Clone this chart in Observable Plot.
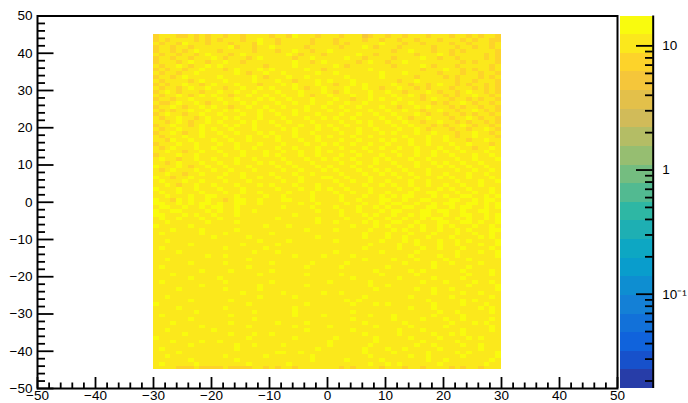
<!DOCTYPE html>
<html><head><meta charset="utf-8">
<script src="https://cdn.jsdelivr.net/npm/d3@7"></script>
<script src="https://cdn.jsdelivr.net/npm/@observablehq/plot@0.6"></script>
<style>
body{margin:0;background:#fff}
#c{position:relative;width:688px;height:403px;overflow:hidden}
#c svg{position:absolute;left:0;top:0}
</style>
</head><body><div id="c"></div>
<script>
// ---- data: 2D histogram, 1x1 bins, x in [-30,30], y in [-45,45]; rows listed from top (y=45) down
// codes = colour band: 'o' dark orange, 'a' orange, '.' main yellow, 'b' bright yellow
const xStart = -30, yTop = 45, nCols = 60;
const codeValue = { o: 5.3, a: 7.5, ".": 10.5, b: 14 };
const rows = [
"a...aa.a.a..a..a....a..ab...a...a...oa..a..a...a...a..a.a..a",
"a.a....a.a.a...a..b..a.....a...a....a..a..a..a...a...a.a..aa",
".a..ab...a...a...ab..a.....a...a.a.....b...a..a....a..a...a.",
"a..a..a......ba..a..b.....a.....a...b.a...a.....a...a..a..a.",
"a..a.a.b...a.....a...a..b..a..b..........a..b...a..a.a.....a",
".a..a..a.b...a.b.......b.a...a.....b..a......a...b.a.....a.a",
"a..a..a...b.a...a.b.....a..b.....b..a....a....b..a..a....a.a",
"a...a.b..a..b..a........b..a.b.....a.b..a..b.........a.a...a",
".a..b.a..b.b.......a....b......b.a.......a....b.a...a.....a.",
"a.a..a..b...a.b...b.b.....b..a.......b........a...b..a.a..a.",
".a..a..b......b.a..b..b.....b..b.......b...b.....a...a..a..a",
"a..a.b.....b.....b.a...b..b......b.....b.....a....a.a...a.a.",
".a....a.b...b....b...b..a...b.b...b.......a..b......a..a...a",
"a.a..b..a.b...b...a...b.b...b..a..b.b....b..a..a.b..a.a..a.a",
".a..a.b..b..a..b..b.b...b.a..b...b..b..a..b..a.a...a...a.a.a",
"a.b.a...a..b..b..b...b...b...b.a.b...b..b..a...b.a..a.b..a.a",
".a..b.a.b.b..a..b..b..b..b.a..b...b..b...b..b.a...a.a..b..a.",
"a..a..b....b..b...b.b..b...b...b..a..b.b..b...a.b..a..a.a..a",
".aa.b..b.a..b..b.b...b..b..b..b..b..b....b..b...a.a..b.a..a.",
"a..b.a..b.b..a..b..b..b...b..b..b..b...b..a..b.b...a.a..a..a",
".a.a..b..b..b.b...b.b...b.b...b..b...b..b..b..a..b..a..b.a.a",
"a.b..a..b..b...b..b..b..b...b...b..b..b..b...b.a..a..a.a..a.",
".a..b..a.b..b.b...b...b...b..b.b..b....b..b.a..b...a..b.a..a",
"..a.b.a..b.b...b.b..b..b...b....b..b.b..b..b..a..b..a.a..a.a",
"a..b..a.b...b.b..b...b...b..b.b..b...b...b..b...a.a..b.a..a.",
".a..b...b.b..b...b....b.b...b..b...b..b...b..b.a...a..a..b.a",
"a..b.a..b..b..b...b.b...b..b....b..b...b.b...b..b...a..b..a.",
".a...b..b...b...b..b.b..b...b.b...b..b.....b...b..b.a..b...a.",
"..ab..b...b..b..b....b...b..b...b..b...b.b..b..b..b...a..b..",
"a...b..b...b..b...b...b...b..b.b..b..b..b...b..b...b..b...a.",
".a.b...b..b...b..b...b..b...b...b...b..b..b..b...b..b..a..b.",
"..b..a..b..b...b...b..b..b..b.b...b..b...b...b..b.b..b...b..",
"a...b..b....b..b...b.b...b..b...b..b...b..b..b..b..b...b..b.",
".b..a..b..b...b..b....b...b..b.b..b...b.b...b..b....b..b...b",
"..a.b...b..b..b...b.b..b...b....b..b..b..b...b..b.b..b..b...",
"b...b.a..b..b...b....b..b...b.b...b..b....b..b...b.b..b..b..",
".a.b...b..b..b...b....b..b...b.b...b..b.b..b...b....b..b..b.",
"..b..a..b...b..b....b...b..b....b...b..b.b..b..b..b...b..b..",
"b..a..b....b...b..b..b...b...bb..b...b....b..b...b.b..b...b.",
".b...b..b...b...b.....b..b.....b..b..b..b...b..b....b...b..b",
"..b.a..b..b...b...b.b...b...b...b...b..b.b..b..b..b..b..b...",
"b...b..b...b...b.....b...b..b.b..b...b....b..b...b.b..b...b.",
".b..b...b...b..b..b....b...b...b..b..b..b...b..bb...b..b..b.",
"..b...b..bb...b....b..b....b....b...b..b.b.bb...b.b..bb..b.b",
"b..ab.b..b..a.bb..b...bb...b....b..b...bb..b..bb...bb..b.bb.",
"bb..b.b.bb.b..bb..b......b..b....b..b..b.bb..b..b.bb..bb.b.b",
".bb..b..b.bb..b.......b....b...b...b..b.b..bb..bb..b.bb..b.b",
"b..bb....b.b..b..b..........b...b..b...b.bb...bb.bb..b..bb..",
"bb...b.b..b...b.........b.......b...b.b..b..b.bb..b..bb..b.b.b",
".b..b...b..b.........b......b....b...b..b..b..b.bb..b.b..b.b",
"..b......b....b.............b..b....b.b..bb..b...bb..bb.b..b",
"b.....b............b...b..........b...b.b...b.b..b.b...b..b.",
"...b....b.....b...........b....b.....b...b.b..b..b..b.b...bb",
".b......b...b.......b...............b...b...b...b...b..b..b..b",
"..........b.....b...........b.......b...b..b...b...b....b.b.",
"..b...............b....b.......b.......b...b.b...b..b.b....b",
"......b........b.....b...............b....b..b...b..b...b..b..",
".b..........b......b................b.....b...b..b...b....b.",
"....b............b...b.........b.......b.....b......b...b..b.",
".........b..b...........b....b....b.........b....b..b......b..",
"..b.............b...................b....b...b....b...b.....b",
"......b.....b.......b......b.....b.........b....b..b....b...",
".b..............b.........b.....b.......b.......b.....b.....b",
"........b....b......b.................b.....b.b......b....b....",
"...b..............b.......b.....b......b.....b........b...b..",
"......b....b......................b.......b.....b....b........",
".b..........b.......b.........b......b........b...b....b..b.",
"........b.........b.......b..........b..b.............b....b.",
"....b.......b.....b...................b......b..b..b.......b.",
"...............b......b......b..b...............b....b..b....",
"..b...............b.....b...........b.......b......b......b...b",
"......b......b...................b.b...........b.....b.b.......",
"b...............b.........b.......b...b.b.......b....b...b..",
"....b.......b...........b...................b...b.......b.b",
".......b.........b......b.........b..............b..b.....b.....",
".b...........b..........b....b.......b...b......b....b......b",
"......b..........b................b......b....b...b..b....b...",
"...b.........b.......b....b.........b......b.......b...b.b....",
"........b.......b.......b.....b.......b.....b.....b.......b.",
"..b.......b...............b.......b.......b...b......b....b.",
".....b.......b...b..b...............b.....b.....b..b.b......b.",
"b...............b.......b......b......b.....b....b....b.b....",
"...b....b..b..................b.......b.......b.....b.......b.",
"......b.......b..b....b.......b......b.......b..b....b..b....b",
".b............b.............b.......b...b..b.....b......b....b..",
"....b................bb..b..........b....b.....b....b.b....b.....",
"..b.........b......b.......b.........b......b..b.....b.....b..b",
"......b.......b............b.....b.....b.......b..b.......b.......",
".b.....b........b......b.............b..b.b......b.......b..b...",
"....aaa.aaaa.aaaa..a.a..a.......a.a....a...a..a....a.a..a...."
];
// colour scale (log z, 20 contour levels, ROOT kBird palette)
const zMax = 17.4, zMin = 0.0174, nLevels = 20;
const birdStops = [0, .125, .25, .375, .5, .625, .75, .875, 1];
const birdR = [0.2082, 0.0592, 0.0780, 0.0232, 0.1802, 0.5301, 0.8186, 0.9956, 0.9764];
const birdG = [0.1664, 0.3599, 0.5041, 0.6419, 0.7178, 0.7492, 0.7328, 0.7862, 0.9832];
const birdB = [0.5293, 0.8684, 0.8385, 0.7914, 0.6425, 0.4662, 0.3499, 0.1968, 0.0539];
// axis ticks
const axisMajor = [-50, -40, -30, -20, -10, 0, 10, 20, 30, 40, 50];
const axisMinor = d3.range(-50, 51, 2).filter(v => v % 10 !== 0);
const zMajor = [0.1, 1, 10];
const zMinor = [2,3,4,5,6,7,8,9].flatMap(m => [0.01*m, 0.1*m, m]).filter(v => v > zMin && v < zMax);

function bird(t) {
  let k = 0; while (k < birdStops.length - 2 && t > birdStops[k+1]) k++;
  const f = (t - birdStops[k]) / (birdStops[k+1] - birdStops[k]);
  const c = a => Math.round(255 * (a[k] + f * (a[k+1] - a[k])));
  return `rgb(${c(birdR)},${c(birdG)},${c(birdB)})`;
}
const levelColors = d3.range(nLevels).map(i => bird(Math.floor((i + 0.99) * 255 / nLevels) / 254));
const lz0 = Math.log10(zMin), lz1 = Math.log10(zMax), dl = (lz1 - lz0) / nLevels;
const levelEdges = d3.range(nLevels + 1).map(i => Math.pow(10, lz0 + i * dl));
const bands = d3.range(nLevels).map(i => ({lo: levelEdges[i], hi: levelEdges[i+1], color: levelColors[i]}));

const cells = [];
rows.forEach((s, r) => {
  const str = (s + ".".repeat(nCols)).slice(0, nCols);
  for (let c = 0; c < nCols; c++) cells.push({x1: xStart + c, x2: xStart + c + 1, y1: yTop - r - 1, y2: yTop - r, v: codeValue[str[c]]});
});

const W = 688, H = 403;
const mL = 37, mR = 71, mT = 15.5, mB = 15;
const innerW = W - mL - mR, innerH = H - mT - mB;
const font = "'Liberation Sans', Arial, Helvetica, sans-serif";
const fs = 13.5;
const ink = "#000";

const main = Plot.plot({
  width: W, height: H,
  marginLeft: mL, marginRight: mR, marginTop: mT, marginBottom: mB,
  style: {fontFamily: font, fontSize: fs + "px", background: "transparent", color: ink, overflow: "visible"},
  x: {domain: [-50, 50], axis: null},
  y: {domain: [-50, 50], axis: null},
  color: {type: "threshold", domain: levelEdges.slice(1, -1), range: levelColors},
  marks: [
    Plot.rect(cells, {x1: "x1", x2: "x2", y1: "y1", y2: "y2", fill: "v", shapeRendering: "crispEdges"}),
    Plot.tickY(axisMinor, {y: d => d, insetRight: innerW - 8, stroke: ink, strokeWidth: 1.8}),
    Plot.tickY(axisMajor, {y: d => d, insetRight: innerW - 16.5, stroke: ink, strokeWidth: 1.8}),
    Plot.tickX(axisMinor, {x: d => d, insetTop: innerH - 5.5, stroke: ink, strokeWidth: 1.8}),
    Plot.tickX(axisMajor, {x: d => d, insetTop: innerH - 11, stroke: ink, strokeWidth: 1.8}),
    Plot.frame({stroke: ink, strokeWidth: 2}),
    Plot.axisY(axisMajor, {anchor: "left", tickSize: 0, tickPadding: 5, fontSize: fs}),
    Plot.axisX(axisMajor, {anchor: "bottom", tickSize: 0, tickPadding: 2, fontSize: fs})
  ]
});

const bL = 620, bR = 652.7, barW = bR - bL;
const supDigits = {"-": "⁻", "0": "⁰", "1": "¹", "2": "²", "3": "³"};
const zFmt = d => { const e = Math.round(Math.log10(d)); return e === 0 ? "1" : e === 1 ? "10" : "10" + String(e).split("").map(ch => supDigits[ch]).join(""); };
const bar = Plot.plot({
  width: W, height: H,
  marginLeft: bL, marginRight: W - bR, marginTop: mT, marginBottom: mB,
  style: {fontFamily: font, fontSize: fs + "px", background: "transparent", color: ink, overflow: "visible"},
  x: {domain: [0, 1], axis: null},
  y: {type: "log", domain: [zMin, zMax], axis: null},
  color: {type: "identity"},
  marks: [
    Plot.rect(bands, {y1: "lo", y2: "hi", fill: "color", shapeRendering: "crispEdges"}),
    Plot.tickY(zMinor, {y: d => d, insetLeft: barW - 7.7, stroke: ink, strokeWidth: 1.8}),
    Plot.tickY(zMajor, {y: d => d, insetLeft: barW - 16.7, stroke: ink, strokeWidth: 1.8}),
    Plot.ruleX([1], {stroke: ink, strokeWidth: 2}),
    Plot.axisY(zMajor, {anchor: "right", tickSize: 0, tickPadding: 9, tickFormat: zFmt, fontSize: fs})
  ]
});
const c = document.getElementById("c");
c.appendChild(main);
c.appendChild(bar);
</script>
</body></html>
